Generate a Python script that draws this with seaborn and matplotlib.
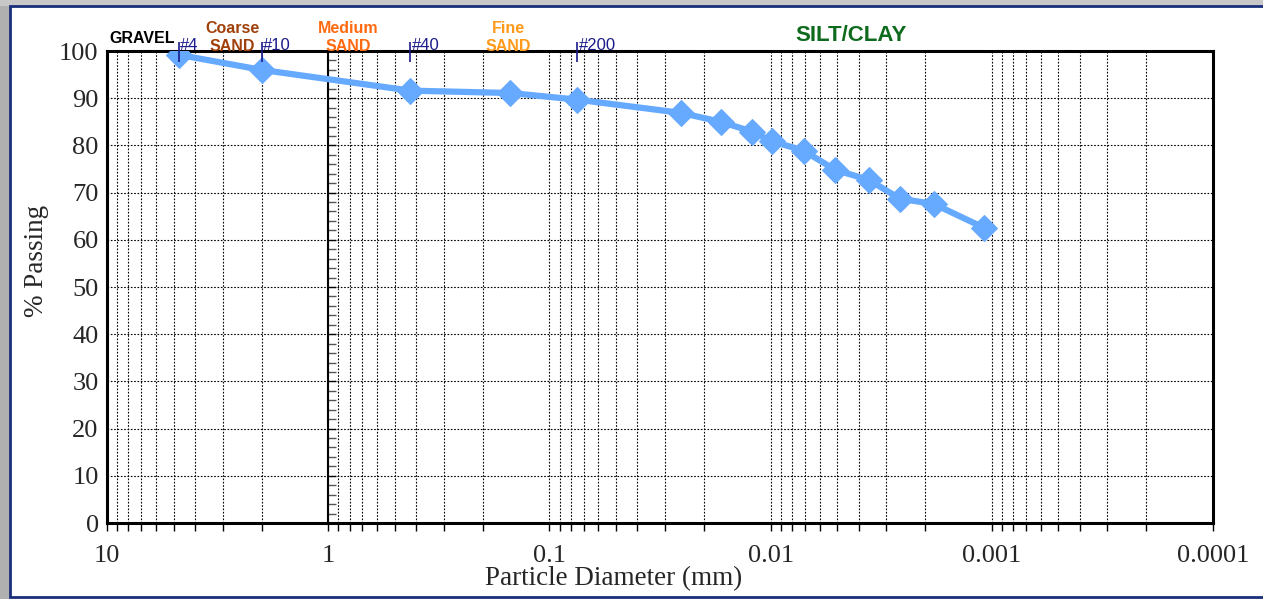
import matplotlib
matplotlib.use("Agg")
import matplotlib.pyplot as plt
import matplotlib.ticker as mticker
from matplotlib.patches import Rectangle
import seaborn as sns
import pandas as pd
import numpy as np

# ---- data ----
diameter_mm = [4.75, 2.0, 0.425, 0.15, 0.075, 0.0255, 0.0168, 0.0121, 0.0099,
               0.0071, 0.0051, 0.0036, 0.0026, 0.00183, 0.00109]
percent_passing = [99.2, 96.0, 91.6, 91.1, 89.7, 86.9, 85.0, 82.9, 80.9,
                   78.9, 74.8, 72.7, 68.7, 67.6, 62.6]

sieve_names = ["#4", "#10", "#40", "#200"]
sieve_sizes = [4.75, 2.0, 0.425, 0.075]

class_labels = ["GRAVEL", "Coarse", "SAND", "Medium", "SAND", "Fine", "SAND", "SILT/CLAY"]
class_x = [6.95, 2.72, 2.72, 0.81, 0.81, 0.153, 0.153, 0.00435]
class_y = [102.75, 104.8, 101.0, 104.8, 101.0, 104.8, 101.0, 103.3]
class_colors = ["#000000", "#A0400A", "#A0400A", "#FF6A10", "#FF6A10",
                "#FF9A1A", "#FF9A1A", "#0E6B1E"]
class_sizes = [11.5, 11.5, 11.5, 11.5, 11.5, 11.5, 11.5, 16]

x_major = [10, 1, 0.1, 0.01, 0.001, 0.0001]
x_major_labels = ["10", "1", "0.1", "0.01", "0.001", "0.0001"]
y_ticks = list(range(0, 101, 10))

df = pd.DataFrame({"d": diameter_mm, "p": percent_passing})

sns.set_style("white")
plt.rcParams["font.family"] = ["Liberation Serif", "DejaVu Serif"]

fig = plt.figure(figsize=(12.63, 5.99), dpi=100)
fig.patch.set_facecolor("white")

# frame decoration
fig.patches.append(Rectangle((0, 0), 10 / 1263, 1, transform=fig.transFigure,
                             facecolor="#b0b0b0", edgecolor="none", zorder=-10))
fig.patches.append(Rectangle((0, 1 - 6 / 599), 1, 6 / 599, transform=fig.transFigure,
                             facecolor="#c8c8c8", edgecolor="none", zorder=-10))
fig.patches.append(Rectangle((10 / 1263, 2 / 599), 1.1, 591 / 599, transform=fig.transFigure,
                             facecolor="white", edgecolor="#1a2f7a", linewidth=2, zorder=-9))

ax = fig.add_axes([107 / 1263, 1 - 523 / 599, (1213 - 107) / 1263, (523 - 51) / 599])
ax.set_facecolor("white")

sns.lineplot(data=df, x="d", y="p", ax=ax, color="#66AAFF", linewidth=4.5,
             marker="D", markersize=13, markeredgecolor="#66AAFF", zorder=5)

ax.set_xscale("log")
ax.set_xlim(10, 0.0001)
ax.set_ylim(0, 100)

ax.xaxis.set_major_locator(mticker.FixedLocator(x_major))
ax.xaxis.set_major_formatter(mticker.FixedFormatter(x_major_labels))
ax.xaxis.set_minor_locator(mticker.LogLocator(base=10, subs=np.arange(2, 10)))
ax.xaxis.set_minor_formatter(mticker.NullFormatter())
ax.set_yticks(y_ticks)

ax.tick_params(axis="x", which="both", direction="out", length=6, width=1,
               color="black", labelsize=19, pad=10, bottom=True)
ax.tick_params(axis="y", which="both", length=0, labelsize=19, pad=6)

ax.grid(True, which="both", axis="x", color="black", linestyle=(0, (1.5, 1.5)), linewidth=0.8)
ax.grid(True, which="major", axis="y", color="black", linestyle=(0, (1.5, 1.5)), linewidth=0.8)

for s in ax.spines.values():
    s.set_color("black")
    s.set_linewidth(2.2)
    s.set_visible(True)

# secondary axis line at d = 1 mm
sec = ax.secondary_yaxis(0.2)
sec.spines["left"].set_linewidth(1.5)
sec.spines["left"].set_color("black")
sec.set_yticks(y_ticks)
sec.yaxis.set_minor_locator(mticker.MultipleLocator(2))
sec.tick_params(which="both", direction="in", length=6, width=1, labelleft=False, color="black")
sec.tick_params(which="minor", color="#555555")

ax.set_xlabel("Particle Diameter (mm)", fontsize=19.5)
ax.set_ylabel("% Passing", fontsize=19.5)
ax.xaxis.set_label_coords(0.458, -0.092)
ax.yaxis.set_label_coords(-0.052, 0.555)

# sieve marks
for name, size in zip(sieve_names, sieve_sizes):
    ax.vlines(size, 97.7, 101.9, color="#1a1a8c", linewidth=1.2, clip_on=False, zorder=6)
    ax.annotate(name, xy=(size, 99.6), xytext=(1, 0), textcoords="offset points",
                ha="left", va="bottom", color="#1a1a8c", fontsize=12,
                family=["Liberation Sans", "DejaVu Sans"], annotation_clip=False)

for lab, xv, yv, c, fs in zip(class_labels, class_x, class_y, class_colors, class_sizes):
    ax.text(xv, yv, lab, ha="center", va="center", color=c, fontsize=fs,
            fontweight="bold", family=["Liberation Sans", "DejaVu Sans"], clip_on=False)

fig.savefig("out.png", dpi=100)
